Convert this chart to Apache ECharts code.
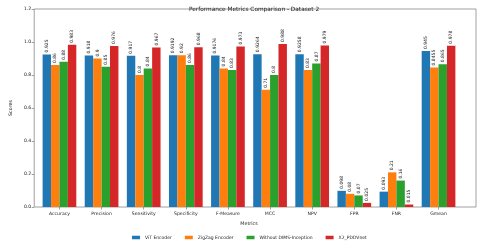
<!DOCTYPE html>
<html><head><meta charset="utf-8">
<script src="https://cdn.jsdelivr.net/npm/echarts@6/dist/echarts.min.js"></script>
<style>html,body{margin:0;padding:0;background:#fff}#c{width:480px;height:242px}</style>
</head><body><div id="c"></div>
<script>
const categories = ['Accuracy','Precision','Sensitivity','Specificity','F-Measure','MCC','NPV','FPR','FNR','Gmean'];
const seriesNames = ['ViT Encoder','ZigZag Encoder','Without DIMS-Inception','X2_PDDVnet'];
const vit    = [0.925, 0.918, 0.917, 0.9192, 0.9176, 0.9264, 0.9258, 0.098, 0.093, 0.945];
const zigzag = [0.86, 0.9, 0.8, 0.92, 0.84, 0.71, 0.83, 0.08, 0.21, 0.8455];
const noDims = [0.88, 0.85, 0.84, 0.86, 0.83, 0.8, 0.87, 0.07, 0.16, 0.865];
const x2     = [0.983, 0.976, 0.967, 0.968, 0.973, 0.988, 0.979, 0.025, 0.015, 0.978];
const yTicks = [0.0, 0.2, 0.4, 0.6, 0.8, 1.0, 1.2];
const colors = ['#1f77b4','#ff7f0e','#2ca02c','#d62728'];
const seriesData = [vit, zigzag, noDims, x2];

const F = 'DejaVu Sans';
const chart = echarts.init(document.getElementById('c'), null, {renderer:'canvas'});
const series = seriesData.map((d, i) => ({
  name: seriesNames[i], type: 'bar', xAxisIndex: 1, yAxisIndex: 1,
  data: d, barGap: '0%', barCategoryGap: '20%',
  itemStyle: {color: colors[i]},
  label: {show: true, position: 'top', rotate: 90, align: 'left', verticalAlign: 'middle',
          distance: 2, fontSize: 4.5, fontFamily: F, color: '#222',
          formatter: p => String(p.value)},
  emphasis: {disabled: true}, animation: false
}));
chart.setOption({
  animation: false,
  title: {text: 'Performance Metrics Comparison - Dataset 2', left: 249, top: 1, textAlign: 'center',
          textStyle: {fontSize: 5.8, fontWeight: 'normal', fontFamily: F, color: '#222'}},
  legend: {data: seriesNames, top: 235, left: 132, padding: 0, itemWidth: 8, itemHeight: 3.5, itemGap: 13,
           textStyle: {fontSize: 4.5, fontFamily: F, color: '#222'}, icon: 'rect'},
  grid: [
    {left: 22, right: 4, top: 9, bottom: 35, show: true, borderColor: '#888', borderWidth: 0.8, backgroundColor: 'transparent'},
    {left: 38.4, right: 20.4, top: 9, bottom: 35}
  ],
  xAxis: [
    {gridIndex: 0, type: 'value', min: 0, max: 1, show: false},
    {gridIndex: 1, type: 'category', data: categories,
     name: 'Metrics', nameLocation: 'middle', nameGap: 10,
     nameTextStyle: {fontSize: 4.8, fontFamily: F, color: '#222'},
     axisLine: {show: false},
     axisTick: {show: true, alignWithLabel: true, length: 2.5, lineStyle: {color: '#888', width: 0.8}},
     axisLabel: {fontSize: 4.6, fontFamily: F, color: '#222', margin: 4, interval: 0}}
  ],
  yAxis: [
    {gridIndex: 0, type: 'value', min: 0, max: 1.2, interval: 0.2,
     name: 'Scores', nameLocation: 'middle', nameGap: 13,
     nameTextStyle: {fontSize: 4.8, fontFamily: F, color: '#222'},
     axisLine: {show: false}, splitLine: {show: false},
     axisTick: {show: true, length: 2.5, lineStyle: {color: '#888', width: 0.8}},
     axisLabel: {fontSize: 4.6, fontFamily: F, color: '#222', margin: 3,
                 formatter: v => v.toFixed(1)}},
    {gridIndex: 1, type: 'value', min: 0, max: 1.2, interval: 0.2, show: false}
  ],
  series: series
});
</script></body></html>
